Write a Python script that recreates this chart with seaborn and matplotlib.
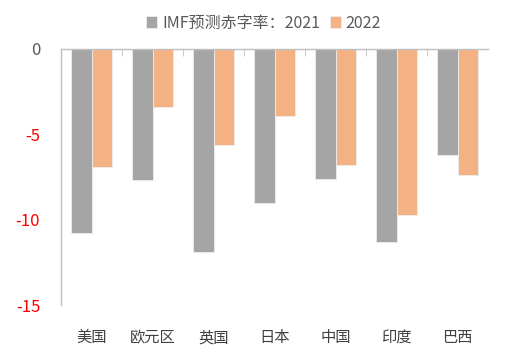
import pandas as pd
import matplotlib.pyplot as plt
import seaborn as sns

regions = ['美国', '欧元区', '英国', '日本', '中国', '印度', '巴西']
deficit_2021 = [-10.8, -7.7, -11.9, -9.0, -7.6, -11.3, -6.2]
deficit_2022 = [-6.9, -3.4, -5.6, -3.9, -6.8, -9.7, -7.4]
series_names = ['IMF预测赤字率：2021', '2022']
y_ticks = [0, -5, -10, -15]

df = pd.DataFrame({
    'region': regions * 2,
    'value': deficit_2021 + deficit_2022,
    'series': [series_names[0]] * len(regions) + [series_names[1]] * len(regions),
})

sns.set_style('white')
plt.rcParams['font.family'] = ['Noto Sans CJK SC', 'DejaVu Sans']

fig = plt.figure(figsize=(5.12, 3.53), dpi=100)
ax = fig.add_axes([61 / 512, 48 / 353, 427 / 512, 256 / 353])

sns.barplot(
    data=df, x='region', y='value', hue='series',
    palette=['#A5A5A5', '#F4B183'], saturation=1, width=0.67,
    edgecolor='#EDEDED', linewidth=0.6, ax=ax,
)

ax.set_xlim(-0.5, len(regions) - 0.5)
ax.set_ylim(-15, 0)
ax.set_xlabel('')
ax.set_ylabel('')

for side in ['right', 'bottom']:
    ax.spines[side].set_visible(False)
for side in ['top', 'left']:
    ax.spines[side].set_color('#BFBFBF')
    ax.spines[side].set_linewidth(1)

ax.set_yticks(y_ticks)
ax.set_yticklabels([str(t) for t in y_ticks], fontsize=12)
for lbl, t in zip(ax.get_yticklabels(), y_ticks):
    lbl.set_color('#595959' if t == 0 else '#FF0000')
ax.tick_params(axis='y', direction='in', length=5, color='#BFBFBF', pad=15)

ax.tick_params(axis='x', which='major', bottom=False, top=False,
               labelsize=11, labelcolor='#404040', pad=14)
ax.set_xticks([i + 0.5 for i in range(len(regions) - 1)], minor=True)
ax.tick_params(axis='x', which='minor', top=True, bottom=False,
               direction='in', length=5, color='#BFBFBF')

ax.legend(
    loc='center', bbox_to_anchor=(0.515, 1 - 23 / 353), bbox_transform=fig.transFigure,
    ncol=2, frameon=False, fontsize=11.5, labelcolor='#595959',
    handlelength=0.7, handleheight=0.7, handletextpad=0.3, columnspacing=0.6,
)

fig.savefig('out.png', dpi=100)
